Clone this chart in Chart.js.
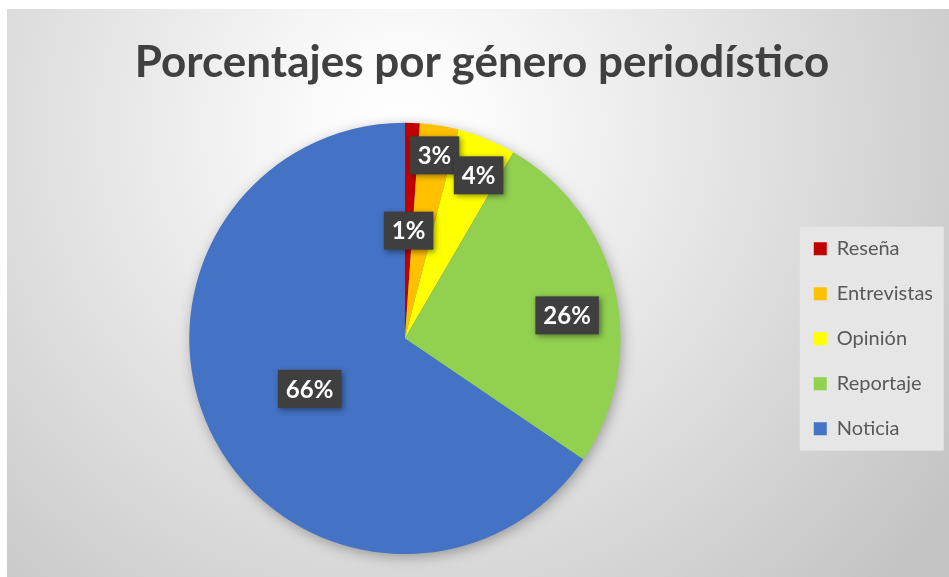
<!DOCTYPE html>
<html>
<head>
<meta charset="utf-8">
<script src="https://cdn.jsdelivr.net/npm/chart.js@4.4.1/dist/chart.umd.min.js"></script>
<style>
  html, body { margin: 0; padding: 0; background: #fff; }
  #wrap { position: absolute; left: 7px; top: 9px; width: 942px; height: 568px; }
</style>
</head>
<body>
<div id="wrap"><canvas id="c"></canvas></div>
<script>
// ── DATOS ─────────────────────────────────────────────────────────
const generos = ['Reseña', 'Entrevistas', 'Opinión', 'Reportaje', 'Noticia'];
const porcentajes = [1.1, 2.9, 4.4, 26.1, 65.5];
const colores = ['#c00000', '#ffc000', '#ffff00', '#92d050', '#4472c4'];

// posición de las etiquetas (fracción del radio, giro en grados)
const labelRadius = [0.50, 0.86, 0.83, 0.76, 0.50];
const labelTurn   = [0, 0, 2, 4.7, 0];

const FONT = 'Lato, "Open Sans", sans-serif';

// ── PLUGINS ───────────────────────────────────────────────────────
const fondo = {
  id: 'fondo',
  beforeDraw(chart) {
    const { ctx, width, height } = chart;
    const g = ctx.createRadialGradient(396, 120, 0, 396, 120, 660);
    g.addColorStop(0, '#ffffff');
    g.addColorStop(0.12, '#fbfbfb');
    g.addColorStop(1, '#c4c4c4');
    ctx.save();
    ctx.fillStyle = g;
    ctx.fillRect(0, 0, width, height);

    // caja de la leyenda
    const hb = chart.legend && chart.legend.legendHitBoxes;
    if (hb && hb.length) {
      const last = hb[hb.length - 1];
      const top = hb[0].top - 12;
      const bottom = last.top + last.height + 12;
      ctx.fillStyle = '#e6e6e6';
      ctx.fillRect(hb[0].left - 14, top, 144, bottom - top);
    }
    ctx.restore();
  },
  beforeDatasetsDraw(chart) {
    const arc = chart.getDatasetMeta(0).data[0];
    if (!arc) return;
    const ctx = chart.ctx;
    ctx.save();
    ctx.shadowColor = 'rgba(0,0,0,0.35)';
    ctx.shadowBlur = 14;
    ctx.shadowOffsetX = 2;
    ctx.shadowOffsetY = 3;
    ctx.fillStyle = '#4472c4';
    ctx.beginPath();
    ctx.arc(arc.x, arc.y, arc.outerRadius - 1, 0, Math.PI * 2);
    ctx.fill();
    ctx.restore();
  }
};

const etiquetas = {
  id: 'etiquetas',
  afterDatasetsDraw(chart) {
    const ctx = chart.ctx;
    const total = porcentajes.reduce((a, b) => a + b, 0);
    chart.getDatasetMeta(0).data.forEach((arc, i) => {
      const a = (arc.startAngle + arc.endAngle) / 2 + labelTurn[i] * Math.PI / 180;
      const r = arc.outerRadius * labelRadius[i];
      const x = arc.x + Math.cos(a) * r;
      const y = arc.y + Math.sin(a) * r;
      const txt = Math.round(porcentajes[i] / total * 100) + '%';
      ctx.save();
      ctx.font = 'bold 24px ' + FONT;
      const w = ctx.measureText(txt).width + 16;
      const h = 38;
      ctx.shadowColor = 'rgba(0,0,0,0.45)';
      ctx.shadowBlur = 6;
      ctx.shadowOffsetX = 2;
      ctx.shadowOffsetY = 2;
      ctx.fillStyle = '#3f3f3f';
      ctx.fillRect(x - w / 2, y - h / 2, w, h);
      ctx.shadowColor = 'transparent';
      ctx.fillStyle = '#ffffff';
      ctx.textAlign = 'center';
      ctx.textBaseline = 'middle';
      ctx.fillText(txt, x, y + 1);
      ctx.restore();
    });
  }
};

// ── GRÁFICO ───────────────────────────────────────────────────────
new Chart(document.getElementById('c'), {
  type: 'pie',
  data: {
    labels: generos,
    datasets: [{
      data: porcentajes,
      backgroundColor: colores,
      borderWidth: 0,
    }],
  },
  options: {
    responsive: true,
    maintainAspectRatio: false,
    animation: false,
    layout: { padding: { left: 14, right: 6, top: 0, bottom: 23 } },
    plugins: {
      title: {
        display: true,
        text: 'Porcentajes por género periodístico',
        color: '#404040',
        font: { family: FONT, size: 44, weight: 'bold' },
        padding: { top: 27, bottom: 34 },
      },
      legend: {
        position: 'right',
        title: { display: true, text: ' ', font: { size: 12 }, padding: { top: 0, bottom: 100 } },
        labels: {
          color: '#595959',
          font: { family: FONT, size: 20 },
          boxWidth: 13,
          boxHeight: 13,
          padding: 25,
        },
      },
      tooltip: { enabled: false },
    },
  },
  plugins: [fondo, etiquetas],
});
</script>
</body>
</html>
